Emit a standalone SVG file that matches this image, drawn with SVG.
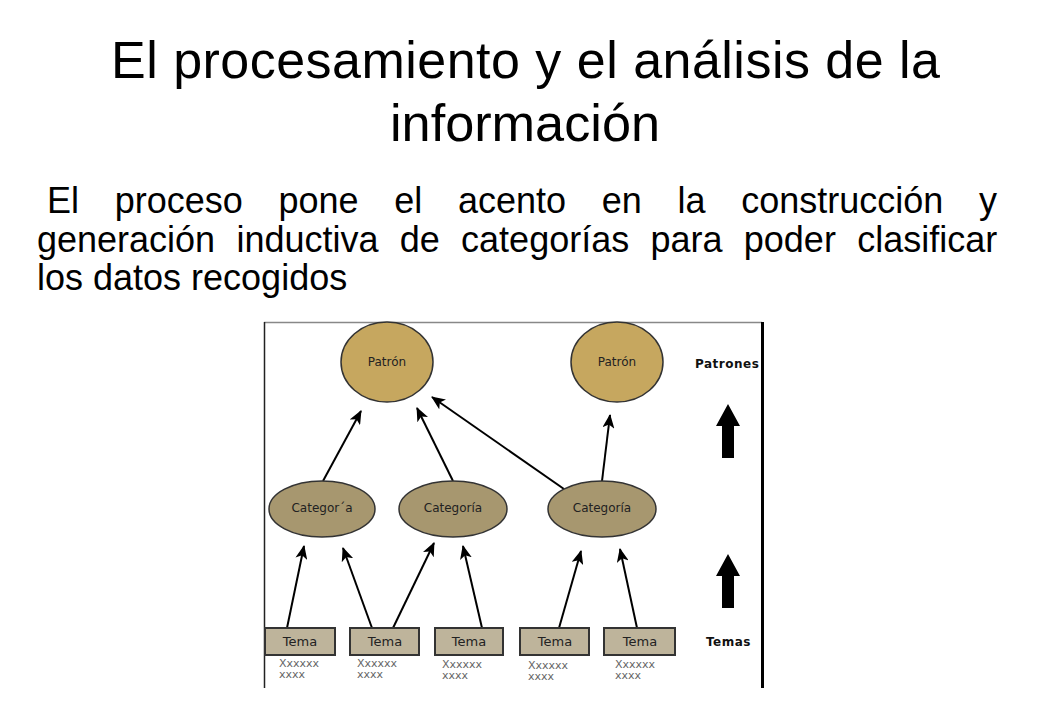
<svg xmlns="http://www.w3.org/2000/svg" width="1040" height="720" viewBox="0 0 1040 720">
<style>
.title{font-family:"Liberation Sans",Arial,sans-serif;font-size:52px;fill:#000}
.body{font-family:"Liberation Sans",Arial,sans-serif;font-size:36px;fill:#000}
.lbl{font-family:"DejaVu Sans",sans-serif;font-size:12px;fill:#222;text-anchor:middle}
.tema{font-family:"DejaVu Sans",sans-serif;font-size:13px;fill:#222;text-anchor:middle}
.xx{font-family:"DejaVu Sans",sans-serif;font-size:11px;fill:#666}
.side{font-family:"DejaVu Sans",sans-serif;font-size:12px;font-weight:bold;fill:#111;letter-spacing:0.5px}
.pat{fill:#c6a75f;stroke:#333;stroke-width:1.5}
.cat{fill:#a7976f;stroke:#333;stroke-width:1.5}
.box{fill:#beb49b;stroke:#333;stroke-width:2}
.conn line{stroke:#000;stroke-width:2;marker-end:url(#ah)}
</style>
<defs>
<marker id="ah" markerWidth="15" markerHeight="12" viewBox="0 0 15 12" refX="13" refY="6" orient="auto" markerUnits="userSpaceOnUse">
<path d="M0,0 L14,6 L0,12 L3.5,6 Z" fill="#000"/>
</marker>
</defs>
<rect width="1040" height="720" fill="#fff"/>
<text class="title" x="111" y="78" textLength="829" lengthAdjust="spacing">El procesamiento y el análisis de la</text>
<text class="title" x="390" y="141" textLength="270" lengthAdjust="spacingAndGlyphs">información</text>
<text class="body" y="213"><tspan x="47">El</tspan><tspan x="114.7">proceso</tspan><tspan x="278.5">pone</tspan><tspan x="394.3">el</tspan><tspan x="458">acento</tspan><tspan x="601.8">en</tspan><tspan x="677.5">la</tspan><tspan x="741.2">construcción</tspan><tspan x="979">y</tspan></text>
<text class="body" y="252"><tspan x="37">generación</tspan><tspan x="236.4">inductiva</tspan><tspan x="399.8">de</tspan><tspan x="461.1">categorías</tspan><tspan x="650.5">para</tspan><tspan x="743.8">poder</tspan><tspan x="857.2">clasificar</tspan></text>
<text class="body" x="37" y="290">los datos recogidos</text>
<g id="frame">
<line x1="264" y1="322.5" x2="762" y2="322.5" stroke="#888" stroke-width="1.5"/>
<line x1="264.5" y1="322" x2="264.5" y2="688" stroke="#222" stroke-width="1.5"/>
</g>
<g class="conn" id="connectors">
<line x1="323" y1="481" x2="361" y2="411"/>
<line x1="453" y1="481" x2="417" y2="408"/>
<line x1="564" y1="489" x2="432" y2="397"/>
<line x1="602" y1="481" x2="610" y2="415"/>
<line x1="287" y1="628" x2="304" y2="546"/>
<line x1="372" y1="628" x2="343" y2="548"/>
<line x1="393" y1="628" x2="434" y2="543"/>
<line x1="482" y1="628" x2="463" y2="546"/>
<line x1="559" y1="628" x2="581" y2="551"/>
<line x1="637" y1="628" x2="620" y2="549"/>
</g>
<g id="patron1"><ellipse class="pat" cx="387" cy="362" rx="46" ry="40"/><text class="lbl" x="387" y="366">Patrón</text></g>
<g id="patron2"><ellipse class="pat" cx="617" cy="362" rx="46" ry="40"/><text class="lbl" x="617" y="366">Patrón</text></g>
<g id="cat1"><ellipse class="cat" cx="322" cy="509" rx="53" ry="28"/><text class="lbl" x="322" y="512">Categor´a</text></g>
<g id="cat2"><ellipse class="cat" cx="453" cy="509" rx="54" ry="28"/><text class="lbl" x="453" y="512">Categoría</text></g>
<g id="cat3"><ellipse class="cat" cx="602" cy="509" rx="54" ry="28"/><text class="lbl" x="602" y="512">Categoría</text></g>
<g id="tema1"><rect class="box" x="265" y="628" width="70" height="27"/><text class="tema" x="300" y="646">Tema</text><text class="xx" x="279" y="667">Xxxxxx</text><text class="xx" x="279" y="678">xxxx</text></g>
<g id="tema2"><rect class="box" x="350" y="628" width="69" height="27"/><text class="tema" x="385" y="646">Tema</text><text class="xx" x="357" y="667">Xxxxxx</text><text class="xx" x="357" y="678">xxxx</text></g>
<g id="tema3"><rect class="box" x="435" y="628" width="68" height="27"/><text class="tema" x="469" y="646">Tema</text><text class="xx" x="442" y="668">Xxxxxx</text><text class="xx" x="442" y="679">xxxx</text></g>
<g id="tema4"><rect class="box" x="520" y="628" width="69" height="27"/><text class="tema" x="555" y="646">Tema</text><text class="xx" x="528" y="669">Xxxxxx</text><text class="xx" x="528" y="680">xxxx</text></g>
<g id="tema5"><rect class="box" x="604" y="628" width="71" height="27"/><text class="tema" x="640" y="646">Tema</text><text class="xx" x="615" y="668">Xxxxxx</text><text class="xx" x="615" y="679">xxxx</text></g>
<g id="legend">
<text class="side" x="695" y="368">Patrones</text>
<text class="side" x="706" y="646">Temas</text>
<polygon points="728,404 740,426 734,426 734,458 722,458 722,426 716,426" fill="#000"/>
<polygon points="728,554 740,576 734,576 734,608 722,608 722,576 716,576" fill="#000"/>
</g>
<line x1="762.5" y1="322" x2="762.5" y2="688" stroke="#000" stroke-width="3"/>
</svg>
